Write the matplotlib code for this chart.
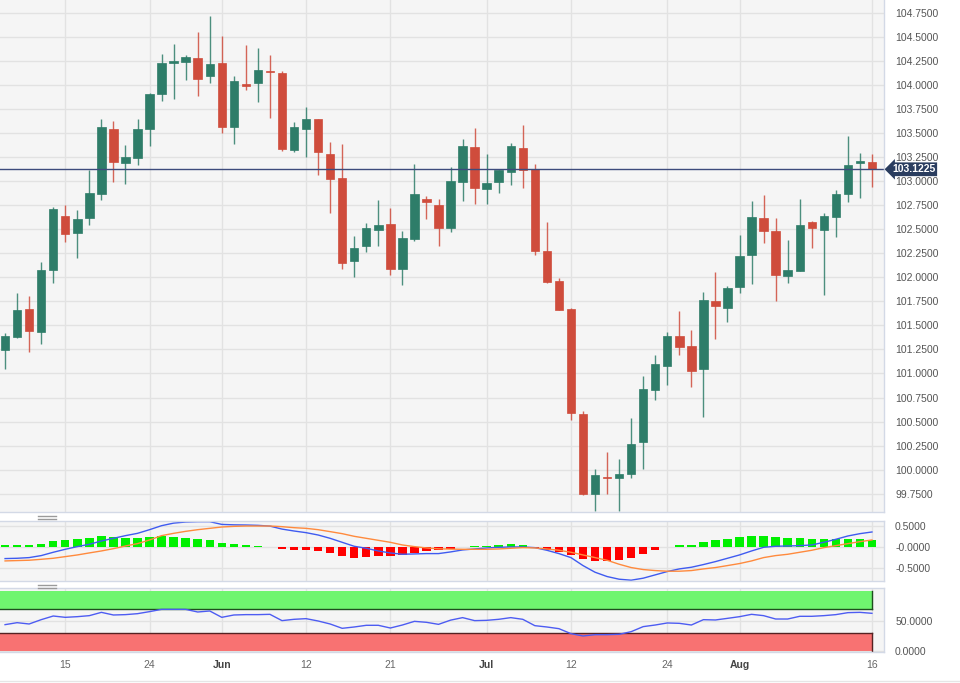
import matplotlib.pyplot as plt
import matplotlib.transforms as mtransforms
from matplotlib.lines import Line2D
import numpy as np
import pandas as pd

plt.rcParams['font.family'] = ['Liberation Sans', 'DejaVu Sans']

# Daily candles, 8 May - 16 Aug 2023 (weekdays)
dates = pd.bdate_range("2023-05-08", "2023-08-16")

opens = [101.24, 101.38, 101.67, 101.43, 102.08, 102.64, 102.46, 102.62, 102.87, 103.54,
         103.19, 103.24, 103.54, 103.91, 104.23, 104.24, 104.28, 104.09, 104.23, 103.56,
         104.01, 104.02, 104.14, 104.12, 103.32, 103.54, 103.65, 103.28, 103.03, 102.17,
         102.33, 102.49, 102.55, 102.09, 102.40, 102.81, 102.75, 102.51, 102.99, 103.35,
         102.92, 102.99, 103.09, 103.34, 103.13, 102.27, 101.96, 101.67, 100.58, 99.75,
         99.92, 99.91, 99.96, 100.29, 100.83, 101.08, 101.39, 101.29, 101.05, 101.75,
         101.68, 101.90, 102.23, 102.62, 102.48, 102.01, 102.06, 102.57, 102.49, 102.63,
         102.87, 103.19, 103.195]
highs = [101.42, 101.84, 101.81, 102.16, 102.73, 102.75, 102.70, 103.12, 103.64, 103.62,
         103.37, 103.65, 103.92, 104.32, 104.42, 104.31, 104.55, 104.72, 104.51, 104.09,
         104.41, 104.38, 104.31, 104.14, 103.61, 103.77, 103.65, 103.41, 103.38, 102.43,
         102.56, 102.80, 102.72, 102.48, 103.18, 102.84, 102.81, 103.15, 103.44, 103.55,
         103.28, 103.12, 103.40, 103.58, 103.18, 102.57, 101.99, 101.68, 100.61, 100.01,
         100.18, 100.11, 100.54, 100.97, 101.19, 101.43, 101.65, 101.45, 101.85, 102.05,
         101.91, 102.44, 102.79, 102.85, 102.62, 102.39, 102.81, 102.59, 102.67, 102.91,
         103.47, 103.29, 103.28]
lows = [101.05, 101.37, 101.22, 101.31, 101.94, 102.37, 102.20, 102.54, 102.80, 102.99,
        102.97, 103.17, 103.36, 103.83, 103.85, 104.05, 103.88, 104.02, 103.50, 103.38,
        103.95, 103.82, 103.66, 103.31, 103.30, 103.25, 103.06, 102.67, 102.09, 102.00,
        102.26, 102.33, 102.02, 101.92, 102.38, 102.61, 102.33, 102.47, 102.79, 102.76,
        102.76, 102.88, 102.96, 102.93, 102.23, 101.94, 101.66, 100.52, 99.74, 99.57,
        99.75, 99.57, 99.91, 100.01, 100.72, 100.88, 101.19, 100.86, 100.55, 101.36,
        101.53, 101.84, 101.93, 102.36, 101.75, 101.94, 102.06, 102.30, 101.82, 102.42,
        102.78, 102.82, 102.94]
closes = [101.39, 101.66, 101.44, 102.08, 102.71, 102.45, 102.61, 102.88, 103.56, 103.20,
          103.25, 103.54, 103.91, 104.23, 104.24, 104.29, 104.06, 104.22, 103.56, 104.04,
          103.99, 104.15, 104.13, 103.33, 103.56, 103.64, 103.30, 103.02, 102.15, 102.30,
          102.51, 102.54, 102.09, 102.41, 102.87, 102.78, 102.51, 103.00, 103.36, 102.93,
          102.98, 103.11, 103.36, 103.11, 102.27, 101.95, 101.66, 100.59, 99.75, 99.94,
          99.91, 99.95, 100.27, 100.84, 101.10, 101.39, 101.27, 101.03, 101.76, 101.70,
          101.89, 102.22, 102.63, 102.48, 102.02, 102.08, 102.54, 102.51, 102.64, 102.87,
          103.17, 103.21, 103.1225]
last_price = 103.1225

# MACD panel
macd = [-0.273, -0.266, -0.25, -0.203, -0.125, -0.055, 0.008, 0.063, 0.14, 0.203,
        0.266, 0.32, 0.406, 0.5, 0.56, 0.586, 0.594, 0.594, 0.53, 0.52,
        0.516, 0.508, 0.49, 0.42, 0.375, 0.336, 0.281, 0.203, 0.109, 0.016,
        -0.031, -0.094, -0.141, -0.172, -0.164, -0.156, -0.156, -0.117, -0.07, -0.047,
        -0.023, -0.008, 0.0, 0.0, -0.016, -0.078, -0.156, -0.25, -0.4375, -0.594,
        -0.695, -0.758, -0.781, -0.734, -0.656, -0.578, -0.516, -0.477, -0.414, -0.344,
        -0.266, -0.1875, -0.094, -0.008, 0.016, 0.023, 0.031, 0.047, 0.109, 0.18,
        0.258, 0.3125, 0.352]
signal = [-0.328, -0.32, -0.312, -0.29, -0.266, -0.227, -0.188, -0.14, -0.094, -0.04,
          0.023, 0.078, 0.164, 0.266, 0.32, 0.367, 0.406, 0.4375, 0.469, 0.484,
          0.492, 0.492, 0.492, 0.477, 0.453, 0.4375, 0.406, 0.36, 0.3125, 0.25,
          0.203, 0.156, 0.109, 0.047, 0.008, -0.023, -0.043, -0.05, -0.055, -0.055,
          -0.055, -0.047, -0.031, -0.016, -0.023, -0.047, -0.078, -0.125, -0.1875, -0.25,
          -0.3125, -0.406, -0.484, -0.531, -0.555, -0.57, -0.57, -0.555, -0.516, -0.484,
          -0.4375, -0.39, -0.328, -0.25, -0.203, -0.172, -0.125, -0.078, -0.016, 0.031,
          0.078, 0.125, 0.164]
hist = [0.04, 0.04, 0.04, 0.08, 0.145, 0.16, 0.18, 0.2, 0.246, 0.238,
        0.215, 0.215, 0.223, 0.246, 0.223, 0.215, 0.176, 0.152, 0.082, 0.059,
        0.04, 0.03, 0.01, -0.059, -0.082, -0.074, -0.098, -0.137, -0.207, -0.254,
        -0.238, -0.223, -0.207, -0.19, -0.137, -0.098, -0.074, -0.05, 0.01, 0.02,
        0.02, 0.043, 0.059, 0.05, -0.02, -0.082, -0.113, -0.19, -0.29, -0.32,
        -0.32, -0.31, -0.254, -0.168, -0.074, 0.0, 0.043, 0.05, 0.12, 0.152,
        0.19, 0.223, 0.26, 0.26, 0.223, 0.2, 0.2, 0.18, 0.176, 0.18,
        0.19, 0.18, 0.168]

# RSI panel
rsi = [43.9, 47.2, 45.0, 52.2, 58.3, 56.1, 57.2, 58.9, 64.4, 60.0,
       60.6, 62.2, 65.6, 69.4, 69.4, 69.4, 65.0, 66.7, 56.1, 60.0,
       60.6, 60.6, 61.1, 50.6, 52.8, 53.9, 50.0, 45.0, 37.8, 40.0,
       42.8, 42.8, 38.3, 43.3, 49.4, 47.8, 44.4, 51.4, 55.6, 50.6,
       51.1, 52.8, 55.6, 52.8, 42.2, 40.0, 37.2, 28.9, 25.0, 27.2,
       27.2, 27.8, 32.2, 40.6, 43.3, 46.7, 46.1, 43.3, 52.2, 51.7,
       54.4, 57.2, 61.1, 58.9, 53.3, 53.3, 57.8, 57.8, 58.9, 60.6,
       63.9, 64.4, 62.8]

tick_dates = ["2023-05-15", "2023-05-24", "2023-06-01", "2023-06-12", "2023-06-21",
              "2023-07-03", "2023-07-12", "2023-07-24", "2023-08-01", "2023-08-16"]
tick_labels = ["15", "24", "Jun", "12", "21", "Jul", "12", "24", "Aug", "16"]

x = np.arange(len(dates))
tick_pos = [dates.get_loc(pd.Timestamp(d)) for d in tick_dates]

bg = '#f5f5f5'
grid_c = '#e2e2e2'
up_c = '#2e7d69'
down_c = '#cf4c3c'
spine_c = '#d3d9e6'
label_c = '#555555'

W, H = 960, 683
fig = plt.figure(figsize=(9.6, 6.83), dpi=100)


def px_rect(left, top, right, bottom):
    return [left / W, 1 - bottom / H, (right - left) / W, (bottom - top) / H]


ax1 = fig.add_axes(px_rect(0, 0, 884, 512))
ax2 = fig.add_axes(px_rect(0, 521, 884, 581))
ax3 = fig.add_axes(px_rect(0, 588, 884, 652))

xlim = (-0.42, 73.0)
for ax in (ax1, ax2, ax3):
    ax.set_facecolor(bg)
    ax.set_xlim(*xlim)
    ax.set_xticks(tick_pos)
    ax.grid(True, color=grid_c, lw=1)
    ax.set_axisbelow(True)
    ax.yaxis.tick_right()
    ax.tick_params(axis='y', length=0, pad=8, labelsize=7.5, labelcolor=label_c)
    ax.tick_params(axis='x', length=0)
    for s in ax.spines.values():
        s.set_color(spine_c)
        s.set_linewidth(1)
    ax.spines['left'].set_visible(False)
ax1.spines['top'].set_visible(False)

# Candles
for i in x:
    o, h, l, c = opens[i], highs[i], lows[i], closes[i]
    col = up_c if c >= o else down_c
    ax1.vlines(i, l, h, color=col, lw=1, alpha=0.85)
    body = max(abs(c - o), 0.015)
    ax1.bar(i, body, bottom=min(o, c), width=0.7, color=col, edgecolor=col, lw=0.5)

ax1.set_ylim(99.56, 104.882)
yt = np.arange(99.75, 104.76, 0.25)
ax1.set_yticks(yt)
ax1.set_yticklabels([f"{v:.4f}" for v in yt])
ax1.set_xticklabels([])

ax1.axhline(last_price, color='#3d4b7c', lw=1)
trans = mtransforms.blended_transform_factory(ax1.transAxes, ax1.transData)
ax1.annotate(f"{last_price:.4f}", xy=(1, last_price), xycoords=trans,
             xytext=(8, 0), textcoords='offset pixels', ha='left', va='center',
             color='white', fontweight='bold', fontsize=7.5, annotation_clip=False,
             bbox=dict(boxstyle='larrow,pad=0.18', fc='#2a3d5f', ec='none'))

# MACD
hcols = ['#00f000' if v >= 0 else '#ff0000' for v in hist]
ax2.bar(x, hist, width=0.7, color=hcols)
ax2.plot(x, macd, color='#3f5bf0', lw=1)
ax2.plot(x, signal, color='#ff8a3d', lw=1)
ax2.set_ylim(-0.80, 0.61)
ax2.set_yticks([0.5, 0, -0.5])
ax2.set_yticklabels(["0.5000", "-0.0000", "-0.5000"])
ax2.set_xticklabels([])

# RSI
band_x = [xlim[0], x[-1]]
ax3.fill_between(band_x, 70, 100, color='#6ff56f', lw=0)
ax3.fill_between(band_x, 0, 30, color='#f87272', lw=0)
ax3.plot(band_x, [70, 70], color='#1f4d1f', lw=1)
ax3.plot(band_x, [30, 30], color='#552222', lw=1)
ax3.plot([x[-1], x[-1]], [70, 100], color='#1f4d1f', lw=1)
ax3.plot([x[-1], x[-1]], [0, 30], color='#552222', lw=1)
ax3.plot(x, rsi, color='#4d5cf2', lw=1)
ax3.set_ylim(-1.7, 105)
ax3.set_yticks([50, 0])
ax3.set_yticklabels(["50.0000", "0.0000"])
ax3.set_xticklabels(tick_labels)
ax3.tick_params(axis='x', pad=6, labelsize=7.5, labelcolor='#666666')
for lab in ax3.get_xticklabels():
    if lab.get_text() in ("Jun", "Jul", "Aug"):
        lab.set_fontweight('bold')
        lab.set_color('#444444')

# panel drag handles
for yy in (516, 518.5, 585, 587.5):
    fig.add_artist(Line2D([38 / W, 56 / W], [1 - yy / H, 1 - yy / H],
                          color='#9a9a9a', lw=1))
fig.add_artist(Line2D([0, 1], [1 - 681 / H, 1 - 681 / H], color='#e6e6e6', lw=1))

fig.savefig("out.png", dpi=100, facecolor='white')
